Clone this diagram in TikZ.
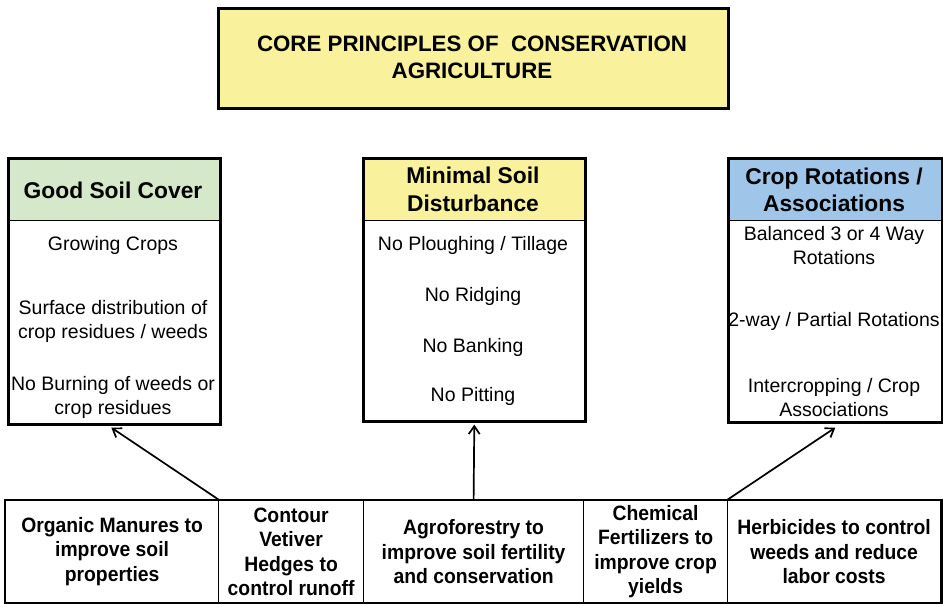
\documentclass[tikz,border=0pt]{standalone}
\usepackage{fontspec}
\setmainfont{Liberation Sans}
\newfontfamily\cellfont[FakeStretch=0.93]{Liberation Sans}
\usetikzlibrary{arrows.meta}
\definecolor{titleyel}{HTML}{FAF19D}
\definecolor{hdrgreen}{HTML}{D5E8C9}
\definecolor{hdryel}{HTML}{FAF19D}
\definecolor{hdrblue}{HTML}{9FC5E8}
\begin{document}
\begin{tikzpicture}[x=1pt,y=-1pt,
  outer/.style={draw=black, line width=2.6pt, inner sep=0pt, anchor=north west},
  hdrbox/.style={draw=black, line width=1.2pt, inner sep=0pt, anchor=north west},
  cell/.style={draw=black, line width=1.2pt, inner sep=0pt, anchor=north west, minimum height=102pt},
  titletext/.style={font=\fontsize{22.3}{27}\selectfont\bfseries, align=center, inner sep=0pt},
  hdrtext/.style={font=\fontsize{22.8}{27.5}\selectfont\bfseries, align=center, inner sep=0pt},
  bodytext/.style={font=\fontsize{19.5}{24}\selectfont, align=center, inner sep=0pt},
  celltext/.style={font=\cellfont\fontsize{20.8}{24.5}\selectfont\bfseries, align=center, inner sep=0pt},
  conn/.style={draw=black, line width=1.7pt, -{Straight Barb[length=8pt,width=11pt,line width=1.7pt]}}
]
\useasboundingbox (0,0) rectangle (943,604);

% Title
\node[outer, fill=titleyel, minimum width=510pt, minimum height=100pt] (title) at (217,7) {};
\node[titletext] (titletxt) at (472,57) {CORE PRINCIPLES OF\ \ CONSERVATION\\AGRICULTURE};

% Left box
\node[hdrbox, fill=hdrgreen, minimum width=212pt, minimum height=63pt] (gsch) at (7,157) {};
\node[outer, minimum width=212pt, minimum height=266pt] (gsc) at (7,157) {};
\node[hdrtext] (gsct) at (113,190) {Good Soil Cover};
\node[bodytext] (gsc1) at (113,245) {Growing Crops};
\node[bodytext] (gsc2) at (113,321) {Surface distribution of\\crop residues / weeds};
\node[bodytext] (gsc3) at (113,397) {No Burning of weeds or\\crop residues};

% Middle box
\node[hdrbox, fill=hdryel, minimum width=222pt, minimum height=63pt] (msdh) at (362,157) {};
\node[outer, minimum width=222pt, minimum height=263pt] (msd) at (362,157) {};
\node[hdrtext] (msdt) at (473,189.5) {Minimal Soil\\Disturbance};
\node[bodytext] (msd1) at (473,245) {No Ploughing / Tillage};
\node[bodytext] (msd2) at (473,296) {No Ridging};
\node[bodytext] (msd3) at (473,347) {No Banking};
\node[bodytext] (msd4) at (473,396) {No Pitting};

% Right box
\node[hdrbox, fill=hdrblue, minimum width=214pt, minimum height=63pt] (crh) at (727,157) {};
\node[outer, minimum width=214pt, minimum height=264pt] (cr) at (727,157) {};
\node[hdrtext] (crt) at (834,190) {Crop Rotations /\\Associations};
\node[bodytext] (cr1) at (834,246) {Balanced 3 or 4 Way\\Rotations};
\node[bodytext] (cr2) at (834,321) {2-way / Partial Rotations};
\node[bodytext] (cr3) at (834,398) {Intercropping / Crop\\Associations};

% Bottom row
\node[cell, minimum width=213pt] (org) at (5,500) {};
\node[cell, minimum width=145pt] (cvh) at (218,500) {};
\node[cell, minimum width=220pt] (agro) at (363,500) {};
\node[cell, minimum width=144pt] (chem) at (583,500) {};
\node[cell, minimum width=213pt] (herb) at (727,500) {};
\draw[line width=2.6pt] (org.north west) rectangle (herb.south east);

\node[celltext] (orgt) at (org.center) {Organic Manures to\\improve soil\\properties};
\node[celltext] (cvht) at (cvh.center) {Contour\\Vetiver\\Hedges to\\control runoff};
\node[celltext] (agrot) at (agro.center) {Agroforestry to\\improve soil fertility\\and conservation};
\node[celltext] (chemt) at (chem.center) {Chemical\\Fertilizers to\\improve crop\\yields};
\node[celltext] (herbt) at (herb.center) {Herbicides to control\\weeds and reduce\\labor costs};

% Connectors
\draw[conn] (org.north east) -- ([xshift=-3pt,yshift=-2pt]gsc.south);
\draw[conn] (agro.north) -- ([yshift=-2pt]msd.south);
\draw[conn] (herb.north west) -- ([yshift=-4pt]cr.south);
\end{tikzpicture}
\end{document}
